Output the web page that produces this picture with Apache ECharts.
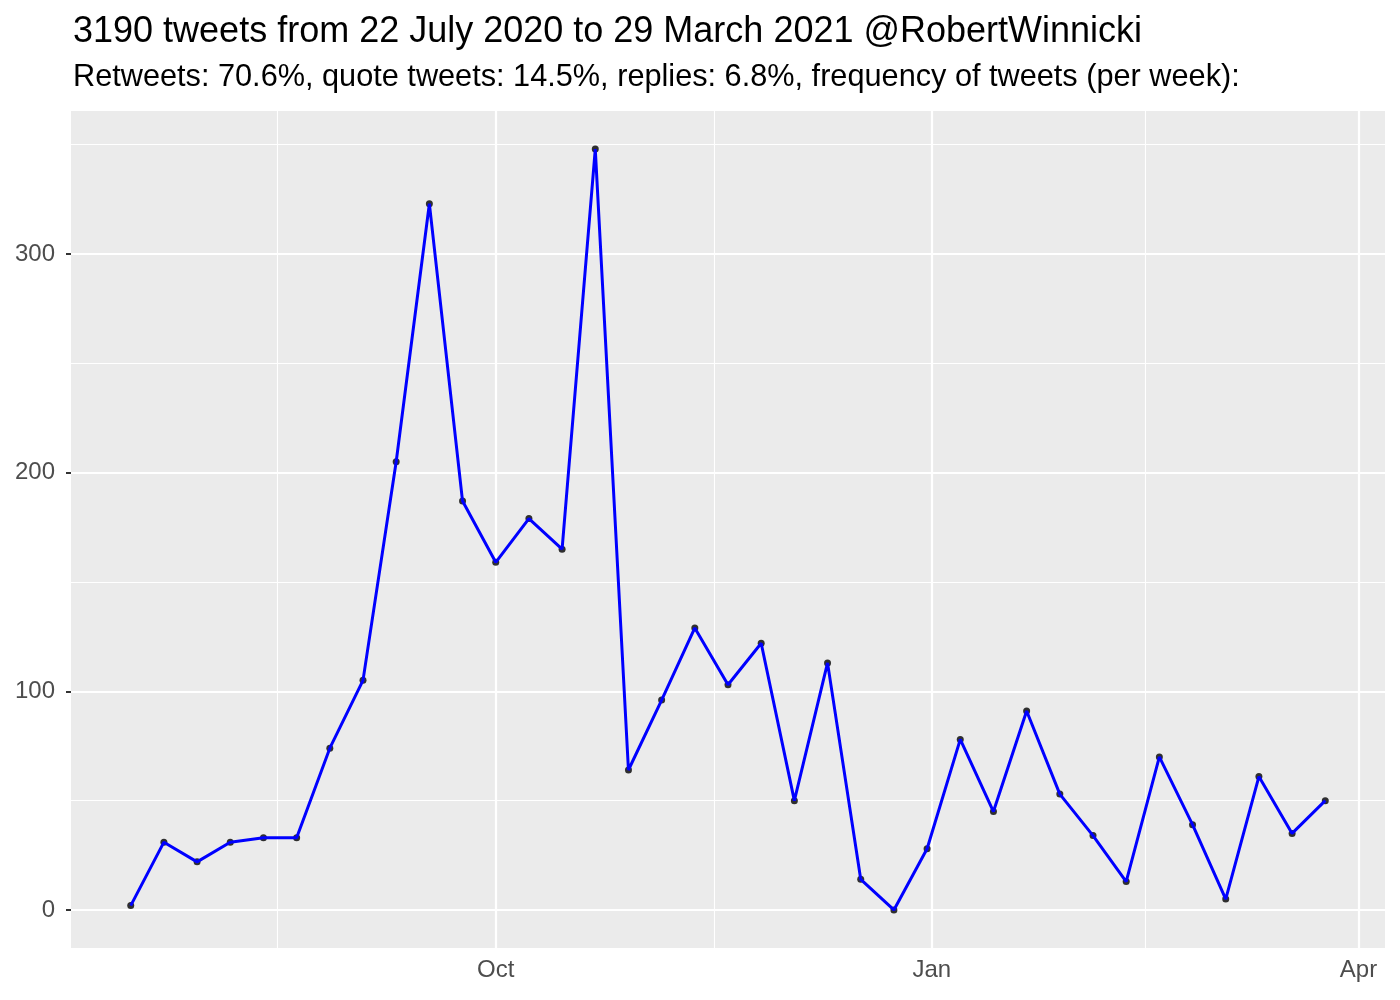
<!DOCTYPE html>
<html>
<head>
<meta charset="utf-8">
<script src="https://cdn.jsdelivr.net/npm/echarts@6/dist/echarts.min.js"></script>
<style>html,body{margin:0;padding:0;background:#fff}#c{width:1400px;height:1000px}</style>
</head>
<body>
<div id="c"></div>
<script>
const titleText = '3190 tweets from 22 July 2020 to 29 March 2021 @RobertWinnicki';
const subtitleText = 'Retweets: 70.6%, quote tweets: 14.5%, replies: 6.8%, frequency of tweets (per week):';

const weeks = [
  '2020-07-16','2020-07-23','2020-07-30','2020-08-06','2020-08-13','2020-08-20','2020-08-27',
  '2020-09-03','2020-09-10','2020-09-17','2020-09-24','2020-10-01','2020-10-08','2020-10-15',
  '2020-10-22','2020-10-29','2020-11-05','2020-11-12','2020-11-19','2020-11-26','2020-12-03',
  '2020-12-10','2020-12-17','2020-12-24','2020-12-31','2021-01-07','2021-01-14','2021-01-21',
  '2021-01-28','2021-02-04','2021-02-11','2021-02-18','2021-02-25','2021-03-04','2021-03-11',
  '2021-03-18','2021-03-25'
];
const tweetsPerWeek = [
  2, 31, 22, 31, 33, 33, 74,
  105, 205, 323, 187, 159, 179, 165,
  348, 64, 96, 129, 103, 122, 50,
  113, 14, 0, 28, 78, 45, 91,
  53, 34, 13, 70, 39, 5, 61,
  35, 50
];

const xMajorDates = ['2020-10-01', '2021-01-01', '2021-04-01'];
const xMajorLabels = ['Oct', 'Jan', 'Apr'];
const xMinorDates = ['2020-08-16', '2020-11-16', '2021-02-15'];
const yMajorTicks = [0, 100, 200, 300];
const yMinorTicks = [50, 150, 250, 350];

const ts = d => Date.parse(d + 'T00:00:00Z');
const xs = weeks.map(ts);
const xSpan = xs[xs.length - 1] - xs[0];
const xMin = xs[0] - 0.05 * xSpan;
const xMax = xs[xs.length - 1] + 0.05 * xSpan;
const yDataMax = Math.max(...tweetsPerWeek), yDataMin = Math.min(...tweetsPerWeek);
const ySpan = yDataMax - yDataMin;
const yMin = yDataMin - 0.05 * ySpan;
const yMax = yDataMax + 0.05 * ySpan;

const majorX = xMajorDates.map(ts);
const minorX = xMinorDates.map(ts);
const labelOf = {};
majorX.forEach((v, i) => labelOf[v] = xMajorLabels[i]);

const points = xs.map((x, i) => [x, tweetsPerWeek[i]]);

const gridLine = (axis, v, w) => ({ [axis]: v, lineStyle: { color: '#FFFFFF', width: w, type: 'solid' } });

const chart = echarts.init(document.getElementById('c'), null, { renderer: 'canvas' });
chart.setOption({
  animation: false,
  backgroundColor: '#FFFFFF',
  textStyle: { fontFamily: 'Liberation Sans' },
  title: [
    { text: titleText, left: 68, top: 9, textStyle: { fontFamily: 'Liberation Sans', fontSize: 36, fontWeight: 'normal', color: '#000000' } },
    { text: subtitleText, left: 68, top: 57, textStyle: { fontFamily: 'Liberation Sans', fontSize: 30.7, fontWeight: 'normal', color: '#000000' } }
  ],
  grid: {
    left: 71, right: 15, top: 111, bottom: 52,
    show: true, backgroundColor: '#EBEBEB', borderWidth: 0,
    outerBoundsMode: 'none'
  },
  xAxis: {
    type: 'value', min: xMin, max: xMax,
    axisLine: { show: false },
    splitLine: { show: false },
    axisTick: { show: true, customValues: majorX, length: 5, lineStyle: { color: '#333333', width: 2 } },
    axisLabel: {
      customValues: majorX, margin: 10,
      formatter: v => labelOf[v] || '',
      fontFamily: 'Liberation Sans', fontSize: 24, color: '#4D4D4D'
    }
  },
  yAxis: {
    type: 'value', min: yMin, max: yMax,
    axisLine: { show: false },
    splitLine: { show: false },
    axisTick: { show: true, customValues: yMajorTicks, length: 5, lineStyle: { color: '#333333', width: 2 } },
    axisLabel: {
      customValues: yMajorTicks, margin: 16,
      fontFamily: 'Liberation Sans', fontSize: 24, color: '#4D4D4D'
    }
  },
  series: [
    {
      type: 'line', data: [], silent: true, z: 1,
      markLine: {
        silent: true, symbol: ['none', 'none'], label: { show: false }, animation: false,
        data: [
          ...yMinorTicks.map(v => gridLine('yAxis', v, 1.1)),
          ...minorX.map(v => gridLine('xAxis', v, 1.1)),
          ...yMajorTicks.map(v => gridLine('yAxis', v, 2.2)),
          ...majorX.map(v => gridLine('xAxis', v, 2.2))
        ]
      }
    },
    {
      type: 'scatter', data: points, symbol: 'circle', symbolSize: 7, zlevel: 1, z: 2,
      itemStyle: { color: '#000000' }, silent: true
    },
    {
      type: 'line', data: points, zlevel: 1, z: 3, symbol: 'none', silent: true,
      lineStyle: { color: '#0000FF', width: 3 }
    }
  ]
});
</script>
</body>
</html>
